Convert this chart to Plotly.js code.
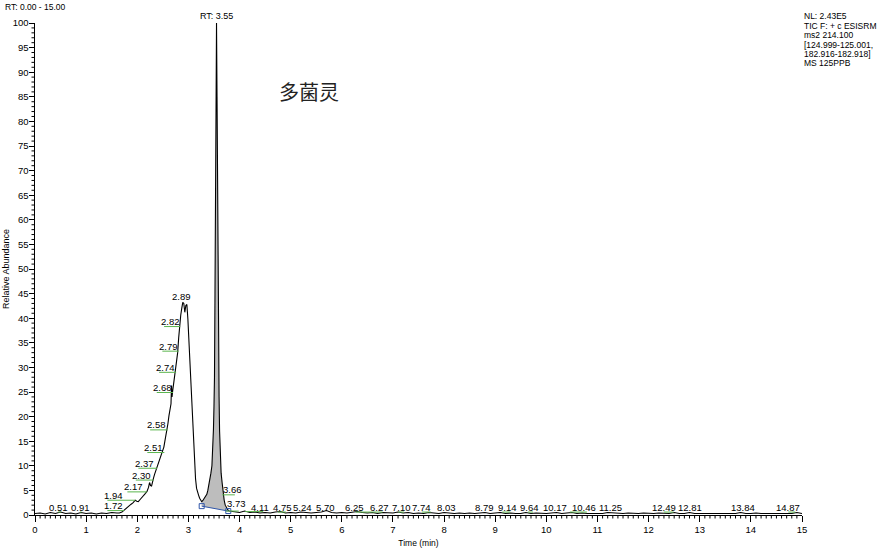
<!DOCTYPE html>
<html><head><meta charset="utf-8">
<script src="https://cdn.plot.ly/plotly-3.0.1.min.js"></script>
<style>html,body{margin:0;padding:0;background:#fff}#chart{width:880px;height:548px}</style>
</head><body><div id="chart"></div>
<script>
// ---------------- DATA ----------------
// baseline before the peaks
const rtBaseA = [0.0,0.1,0.2,0.3,0.4,0.5,0.6,0.7,0.8,0.9,1.0,1.1,1.2,1.3,1.4,1.5,1.6];
const abBaseA = [0.3,0.4,0.2,0.5,0.3,0.6,0.3,0.4,0.2,0.5,0.3,0.4,0.2,0.4,0.3,0.5,0.4];
// peak region
const rtPeaks = [1.65,1.70,1.73,1.76,1.80,1.84,1.88,1.92,1.96,1.99,
  2.02,2.06,2.10,2.13,2.16,2.19,2.22,2.24,2.26,2.28,
  2.30,2.32,2.34,2.36,2.38,2.40,2.42,2.44,2.46,2.48,
  2.50,2.52,2.54,2.56,2.58,2.60,2.62,2.64,2.66,2.67,
  2.68,2.69,2.71,2.73,2.75,2.77,2.79,2.81,2.83,2.85,
  2.87,2.89,2.91,2.93,2.95,2.97,2.99,3.00,3.02,3.04,
  3.06,3.08,3.10,3.12,3.14,3.16,3.18,3.20,3.22,3.24,
  3.26,3.28,3.30,3.32,3.34,3.36,3.38,3.40,3.42,3.44,
  3.46,3.48,3.49,3.50,3.51,3.52,3.53,3.54,3.55,3.56,
  3.57,3.58,3.59,3.60,3.61,3.62,3.63,3.64,3.66,3.68,
  3.70,3.72,3.75,3.78];
const abPeaks = [0.4,0.6,0.9,1.1,1.5,1.9,2.2,2.5,3.0,2.8,
  2.7,3.2,3.6,4.0,4.4,4.8,5.6,6.6,6.0,5.9,
  7.1,7.6,8.3,8.9,9.6,10.1,10.5,11.0,11.6,12.2,
  12.8,13.8,15.0,16.0,17.3,18.6,20.2,21.4,22.6,26.3,
  24.0,25.0,26.6,28.0,29.4,31.0,33.0,36.0,38.8,40.6,
  42.0,43.2,43.0,41.2,42.6,42.8,39.8,37.6,33.5,28.5,
  25.5,20.5,15.2,11.0,7.3,5.4,4.5,4.0,3.4,2.9,
  2.7,2.9,3.3,3.7,4.0,4.2,5.0,6.0,7.2,8.5,
  10.0,14.0,17.5,22.0,28.0,45.0,65.0,85.0,100,85.0,
  65.0,45.0,33.0,24.0,17.0,13.0,10.0,8.5,6.5,4.5,
  3.0,2.0,1.3,0.9];
// baseline after the peaks
const rtBaseB = [3.8,3.9,4.0,4.1,4.2,4.3,4.4,4.5,4.6,4.7,
  4.8,4.9,5.0,5.1,5.2,5.3,5.4,5.5,5.6,5.7,
  5.8,5.9,6.0,6.1,6.2,6.3,6.4,6.5,6.6,6.7,
  6.8,6.9,7.0,7.1,7.2,7.3,7.4,7.5,7.6,7.7,
  7.8,7.9,8.0,8.1,8.2,8.3,8.4,8.5,8.6,8.7,
  8.8,8.9,9.0,9.1,9.2,9.3,9.4,9.5,9.6,9.7,
  9.8,9.9,10.0,10.1,10.2,10.3,10.4,10.5,10.6,10.7,
  10.8,10.9,11.0,11.1,11.2,11.3,11.4,11.5,11.6,11.7,
  11.8,11.9,12.0,12.1,12.2,12.3,12.4,12.5,12.6,12.7,
  12.8,12.9,13.0,13.1,13.2,13.3,13.4,13.5,13.6,13.7,
  13.8,13.9,14.0,14.1,14.2,14.3,14.4,14.5,14.6,14.7,
  14.8,14.9,15.0];
const abBaseB = [0.8,0.6,0.5,0.8,0.5,0.6,0.4,0.5,0.4,0.6,
  0.7,0.4,0.5,0.4,0.6,0.5,0.4,0.5,0.6,0.9,
  0.5,0.4,0.5,0.4,0.6,0.7,0.5,0.4,0.5,0.3,
  0.5,0.4,0.4,0.6,0.4,0.5,0.3,0.4,0.3,0.5,
  0.4,0.3,0.5,0.4,0.3,0.4,0.3,0.4,0.3,0.4,
  0.5,0.3,0.4,0.5,0.3,0.4,0.3,0.3,0.5,0.3,
  0.4,0.3,0.3,0.4,0.5,0.3,0.4,0.5,0.3,0.4,
  0.3,0.3,0.4,0.3,0.5,0.4,0.3,0.3,0.4,0.3,
  0.3,0.4,0.3,0.3,0.4,0.3,0.3,0.5,0.3,0.3,
  0.5,0.3,0.3,0.4,0.3,0.3,0.4,0.3,0.3,0.3,
  0.5,0.3,0.3,0.4,0.3,0.3,0.3,0.4,0.3,0.3,
  0.3,0.5,0.3];
// integration baseline of the main peak
const integRT = [3.26, 3.78];
const integAb = [1.8, 0.8];
// peak labels
const slopeLabelRT = [1.72,1.94,2.17,2.30,2.37,2.51,2.58,2.68,2.74,2.79,2.82];
const slopeLabelAb = [0.9,3.0,4.7,7.1,9.5,12.7,17.3,24.9,29.0,33.3,38.3];
const tailLabelRT = [3.66,3.73];
const tailLabelAb = [4.1,0.8];
const baseLabelRT = [0.51,0.91,4.11,4.75,5.24,5.70,6.25,6.27,7.10,7.74,8.03,8.79,9.14,9.64,10.17,10.46,11.25,12.49,12.81,13.84,14.87];
const baseLabelAb = [0.6,0.6,0.7,0.6,0.6,0.6,0.6,0.6,0.6,0.6,0.6,0.6,0.6,0.6,0.6,0.6,0.6,0.6,0.6,0.6,0.6];
const apexRT = [2.89, 3.55];
const apexAb = [43.2, 100];
const compoundName = '多菌灵';
const infoLines = ['NL: 2.43E5','TIC F: + c ESISRM','ms2 214.100','[124.999-125.001,','182.916-182.918]','MS 125PPB'];
const rtRangeText = 'RT: 0.00 - 15.00';
const xTicks = [0,1,2,3,4,5,6,7,8,9,10,11,12,13,14,15];
const yTicks = [0,5,10,15,20,25,30,35,40,45,50,55,60,65,70,75,80,85,90,95,100];

// ---------------- STYLE ----------------
const FONT = 'Liberation Sans, Arial, sans-serif';
const GREEN = '#5bb54e';
const BLUE = '#2f55a8';
const slopeDx = [-9.6,-20.8,-12.6,-10.8,-11.8,-10,-10.8,-9.3,-10,-9.3,-9.1];
const tailDx = [10.7, 11];
const tailDy = [5.5, 8];
const baseDx = [-3,-1.5,15,5,0,-1,0,24,3,-9,1,0,5,2,0,14,0,-10,0,0,-7];
const X_MINOR_PER_MAJOR = 10;   // minor ticks every 0.1 min
const Y_MINOR_PER_MAJOR = 5;    // minor ticks every 1 %
const MINOR_LEN = 3.5;
const L = 35, R = 801.7, T = 23, B = 515;
const PW = R - L, PH = B - T;
const px = x => (x - L) / PW;
const py = y => (B - y) / PH;

const rt = rtBaseA.concat(rtPeaks, rtBaseB);
const ab = abBaseA.concat(abPeaks, abBaseB);

// fill polygon between curve and integration baseline
const fx = [], fy = [];
rt.forEach((t, i) => { if (t >= integRT[0] - 1e-9 && t <= integRT[1] + 1e-9) { fx.push(t); fy.push(ab[i]); } });
fx.push(integRT[1], integRT[0]); fy.push(integAb[1], integAb[0]);

const traces = [
  {x: fx, y: fy, type: 'scatter', mode: 'lines', fill: 'toself', fillcolor: '#bdbdbd',
   line: {width: 0, color: 'rgba(0,0,0,0)'}, hoverinfo: 'skip', showlegend: false},
  {x: rt, y: ab, type: 'scatter', mode: 'lines', line: {color: '#000', width: 1.1}, showlegend: false},
  {x: integRT, y: integAb, type: 'scatter', mode: 'lines+markers',
   line: {color: BLUE, width: 1}, marker: {symbol: 'square-open', size: 5, color: BLUE, line: {width: 1, color: BLUE}},
   showlegend: false}
];

const annotations = [];
const shapes = [];
const lab = (x, y, text, dx, dy, size) => annotations.push({x, y, xref: 'x', yref: 'y', text, showarrow: false,
  xanchor: 'center', yanchor: 'middle', xshift: dx, yshift: dy, font: {family: FONT, size: size || 9.5, color: '#000'}});
const seg = (x, y, a, b) => shapes.push({type: 'line', xref: 'x', yref: 'y', xsizemode: 'pixel', ysizemode: 'pixel',
  xanchor: x, yanchor: y, x0: a, x1: b, y0: 0, y1: 0, line: {color: GREEN, width: 1}});

slopeLabelRT.forEach((t, i) => {
  lab(t, slopeLabelAb[i], t.toFixed(2), slopeDx[i], 5);
  seg(t, slopeLabelAb[i], slopeDx[i] - 6, 1);
});
tailLabelRT.forEach((t, i) => {
  lab(t, tailLabelAb[i], t.toFixed(2), tailDx[i], tailDy[i]);
  seg(t, tailLabelAb[i], 0, tailDx[i] + 2);
});
baseLabelRT.forEach((t, i) => {
  const d = baseDx[i];
  lab(t, baseLabelAb[i], t.toFixed(2), d, 4.5);
  if (d > 1) seg(t, baseLabelAb[i], 0, d + 3);
  else if (d < -1) seg(t, baseLabelAb[i], d, 0);
});
lab(apexRT[0], apexAb[0], apexRT[0].toFixed(2), -1, 6);
lab(apexRT[1], apexAb[1], 'RT: ' + apexRT[1].toFixed(2), 0, 7.5, 9);

// minor axis ticks (drawn as shapes between the major ticks)
for (let k = 0; k < xTicks.length - 1; k++) {
  const a = xTicks[k], step = (xTicks[k + 1] - a) / X_MINOR_PER_MAJOR;
  for (let j = 1; j < X_MINOR_PER_MAJOR; j++) {
    const v = a + step * j;
    shapes.push({type: 'line', xref: 'x', yref: 'paper', x0: v, x1: v, y0: 0, y1: -MINOR_LEN / PH,
      line: {color: '#000', width: 1}, layer: 'above'});
  }
}
for (let k = 0; k < yTicks.length - 1; k++) {
  const a = yTicks[k], step = (yTicks[k + 1] - a) / Y_MINOR_PER_MAJOR;
  for (let j = 1; j < Y_MINOR_PER_MAJOR; j++) {
    const v = a + step * j;
    shapes.push({type: 'line', xref: 'paper', yref: 'y', x0: 0, x1: -MINOR_LEN / PW, y0: v, y1: v,
      line: {color: '#000', width: 1}, layer: 'above'});
  }
}

annotations.push({xref: 'paper', yref: 'paper', x: px(3), y: py(6.5), xanchor: 'left', yanchor: 'middle',
  text: rtRangeText, showarrow: false, font: {family: FONT, size: 8.5, color: '#000'}});
infoLines.forEach((s, i) => annotations.push({xref: 'paper', yref: 'paper', x: px(802), y: py(16 + 9.5 * i),
  xanchor: 'left', yanchor: 'middle', text: s, showarrow: false, font: {family: FONT, size: 8.5, color: '#000'}}));
annotations.push({xref: 'paper', yref: 'paper', x: px(308.5), y: py(91.5), xanchor: 'center', yanchor: 'middle',
  text: compoundName, showarrow: false, font: {family: 'Noto Sans CJK SC, sans-serif', size: 20, color: '#222'}});

const axisCommon = {showline: true, linecolor: '#000', linewidth: 1, ticks: 'outside', ticklen: 5.5, tickwidth: 1,
  tickcolor: '#000', showgrid: false, zeroline: false, tickfont: {family: FONT, size: 9.5, color: '#000'}, fixedrange: true};

const layout = {
  width: 880, height: 548,
  margin: {l: L, r: 880 - R, t: T, b: 548 - B, pad: 0},
  showlegend: false,
  xaxis: Object.assign({}, axisCommon, {range: [xTicks[0], xTicks[xTicks.length - 1]], tickmode: 'array',
    tickvals: xTicks, ticktext: xTicks.map(String),
    title: {text: 'Time (min)', font: {family: FONT, size: 8.5, color: '#000'}, standoff: 6}}),
  yaxis: Object.assign({}, axisCommon, {range: [yTicks[0], yTicks[yTicks.length - 1]], tickmode: 'array',
    tickvals: yTicks, ticktext: yTicks.map(String), ticklabelstandoff: -2,
    title: {text: 'Relative Abundance', font: {family: FONT, size: 9, color: '#000'}, standoff: 1}}),
  annotations, shapes
};

Plotly.newPlot('chart', traces, layout, {displayModeBar: false, staticPlot: true});
</script></body></html>
